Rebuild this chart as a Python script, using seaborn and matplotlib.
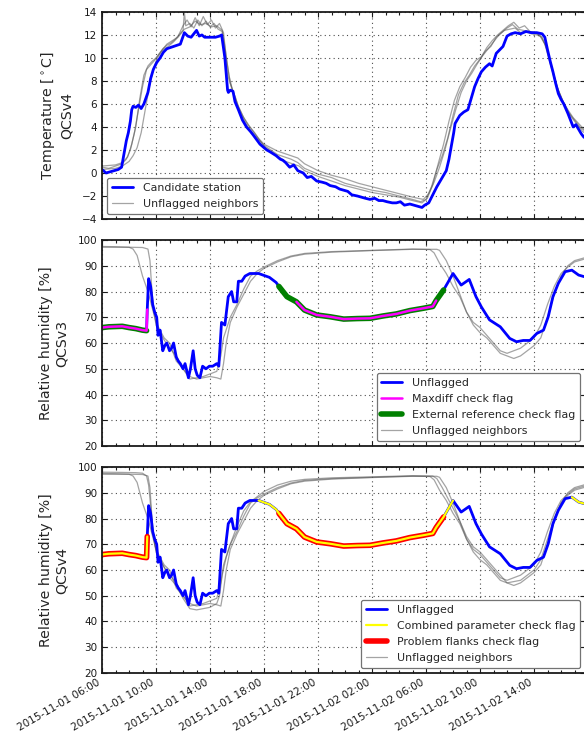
import numpy as np
import pandas as pd
import seaborn as sns
import matplotlib.pyplot as plt
import matplotlib.dates as mdates

# hours after 2015-11-01 06:00
start = pd.Timestamp("2015-11-01 06:00")

# --- temperature, candidate station
temp_cand_h = [0.0, 0.3, 0.6, 0.9, 1.2, 1.45, 1.6, 1.8, 1.95, 2.1, 2.2, 2.3, 2.5, 2.7, 2.9, 3.1, 3.4, 3.6, 3.8,
               4.05, 4.3, 4.55, 4.8, 5.05, 5.3, 5.55, 5.8, 6.1, 6.35, 6.6, 6.8, 7.0, 7.2, 7.4, 7.6, 8.0, 8.4,
               8.7, 8.86, 9.1, 9.3, 9.36, 9.5, 9.7, 9.85, 10.1, 10.4, 10.7, 11.0, 11.2, 11.45, 11.7, 12.0,
               12.2, 12.5, 12.9, 13.2, 13.4, 13.6, 13.9, 14.2, 14.5, 14.9, 15.2, 15.5, 15.9, 16.3, 16.6,
               16.9, 17.3, 17.6, 17.9, 18.2, 18.5, 18.9, 19.2, 19.5, 19.85, 20.2, 20.5, 20.8, 21.1, 21.5,
               21.8, 22.1, 22.4, 22.8, 23.1, 23.4, 23.7, 23.9, 24.2, 24.5, 24.8, 25.1, 25.5, 25.7, 25.9,
               26.05, 26.15, 26.3, 26.5, 26.8, 27.1, 27.35, 27.6, 27.85, 28.1, 28.4, 28.7, 28.9, 29.2,
               29.45, 29.7, 30.0, 30.3, 30.6, 31.0, 31.4, 31.8, 32.2, 32.6, 32.8, 33.0, 33.2, 33.4, 33.6,
               33.8, 34.0, 34.2, 34.35, 34.5, 34.7, 34.9, 35.1, 35.3, 35.5, 35.7, 36.0]
temp_cand = [0.3, 0.0, 0.1, 0.2, 0.3, 0.5, 1.5, 2.8, 3.5, 4.5, 5.5, 5.8, 5.7, 5.9, 5.6, 6.0, 7.0, 8.2, 9.0,
             9.6, 10.0, 10.5, 10.8, 10.9, 11.0, 11.1, 11.2, 12.2, 11.9, 11.8, 12.1, 12.4, 11.9, 12.0, 11.8,
             11.8, 11.8, 11.9, 12.0, 10.0, 7.2, 7.0, 7.2, 7.1, 6.2, 5.5, 4.6, 4.0, 3.6, 3.3, 2.9, 2.5, 2.2,
             2.0, 1.8, 1.5, 1.2, 1.1, 0.9, 0.5, 0.7, 0.2, 0.0, -0.4, -0.3, -0.7, -0.8, -0.9, -1.1, -1.2,
             -1.4, -1.5, -1.6, -1.9, -2.0, -2.1, -2.2, -2.3, -2.2, -2.4, -2.4, -2.5, -2.6, -2.6, -2.5,
             -2.8, -2.7, -2.8, -2.9, -3.0, -2.8, -2.6, -1.9, -1.2, -0.6, 0.2, 1.2, 2.5, 3.5, 4.3, 4.6,
             5.0, 5.3, 5.5, 6.5, 7.5, 8.2, 8.8, 9.2, 9.5, 9.3, 10.4, 10.7, 11.0, 11.9, 12.1, 12.2, 12.1,
             12.3, 12.2, 12.2, 12.1, 11.8, 10.7, 9.7, 8.8, 7.8, 6.9, 6.4, 6.0, 5.6, 5.2, 4.6, 4.0, 4.2,
             3.8, 3.4, 3.1, 3.0]

# --- temperature, neighbors
temp_nb1_h = [0, 0.5, 1.0, 1.5, 1.8, 2.1, 2.4, 2.7, 3.0, 3.3, 3.6, 3.9, 4.2, 4.5, 4.8, 5.1, 5.4, 5.7, 6.0,
              6.1, 6.2, 6.5, 6.8, 7.1, 7.4, 7.7, 8.0, 8.3, 8.6, 8.9, 9.1, 9.3, 9.6, 9.9, 10.2, 10.5, 10.8,
              11.2, 11.6, 12.0, 12.5, 13.0, 13.5, 14.0, 14.5, 15.0, 16.0, 17.0, 18.0, 19.0, 20.0, 21.0,
              22.0, 23.0, 23.6, 24.0, 24.4, 24.8, 25.2, 25.6, 26.0, 26.4, 26.8, 27.2, 27.6, 28.0, 28.4,
              28.8, 29.2, 29.6, 30.0, 30.4, 30.8, 31.2, 31.6, 32.0, 32.4, 32.8, 33.2, 33.6, 34.0, 34.4,
              34.8, 35.2, 35.6, 36.0]
temp_nb1 = [0.5, 0.4, 0.6, 0.8, 1.2, 2.0, 3.5, 5.5, 7.5, 9.0, 9.4, 9.8, 10.3, 10.8, 11.1, 11.3, 11.6, 12.0,
            12.4, 14.0, 12.8, 13.0, 12.6, 13.3, 12.8, 13.2, 12.7, 13.0, 12.5, 12.3, 10.5, 8.5, 7.4, 6.5,
            5.3, 4.6, 4.0, 3.4, 2.9, 2.4, 2.0, 1.6, 1.4, 1.2, 0.9, 0.4, -0.1, -0.4, -0.9, -1.2, -1.5,
            -1.7, -2.0, -2.3, -2.5, -2.3, -1.2, 0.3, 1.5, 3.0, 5.0, 6.8, 7.8, 8.5, 9.3, 9.9, 10.6, 11.0,
            11.8, 12.2, 12.6, 12.9, 12.5, 12.4, 12.3, 12.2, 12.0, 11.2, 9.5, 7.8, 6.6, 5.5, 4.8, 4.2,
            3.6, 3.3]
temp_nb2_h = [0, 1.0, 1.5, 2.0, 2.3, 2.6, 2.9, 3.2, 3.5, 3.8, 4.1, 4.5, 4.9, 5.3, 5.7, 6.1, 6.5, 6.9, 7.3,
              7.7, 8.1, 8.5, 8.9, 9.1, 9.4, 9.7, 10.0, 10.4, 10.8, 11.2, 11.6, 12.0, 12.5, 13.0, 13.5,
              14.0, 14.5, 15.0, 16.0, 17.0, 18.0, 19.0, 20.0, 21.0, 22.0, 23.0, 23.8, 24.2, 24.6, 25.0,
              25.4, 25.8, 26.2, 26.6, 27.0, 27.4, 27.8, 28.2, 28.6, 29.0, 29.4, 29.8, 30.2, 30.6, 31.0,
              31.4, 31.8, 32.2, 32.6, 33.0, 33.4, 33.8, 34.2, 34.6, 35.0, 35.4, 35.8, 36.0]
temp_nb2 = [0.3, 0.4, 0.6, 1.0, 1.5, 2.2, 3.5, 5.5, 7.5, 9.0, 10.0, 10.7, 11.0, 11.4, 11.9, 12.5, 12.7,
            13.2, 12.9, 13.0, 12.7, 12.8, 12.4, 11.0, 8.5, 7.0, 6.0, 5.0, 4.2, 3.6, 3.0, 2.5, 2.2, 1.9,
            1.7, 1.5, 1.3, 0.8, 0.2, -0.2, -0.5, -0.9, -1.2, -1.5, -1.8, -2.1, -2.3, -1.8, -0.8, 0.5,
            2.0, 3.8, 5.5, 7.0, 8.0, 8.7, 9.5, 10.2, 10.8, 11.4, 12.0, 12.4, 12.5, 12.6, 12.2, 12.3,
            12.1, 12.0, 11.8, 10.6, 8.8, 7.2, 6.1, 5.2, 4.6, 4.0, 3.6, 3.4]
temp_nb3_h = [0, 1.0, 1.5, 1.9, 2.2, 2.5, 2.8, 3.1, 3.4, 3.7, 4.0, 4.4, 4.8, 5.2, 5.6, 6.0, 6.3, 6.6, 6.9,
              7.2, 7.5, 7.8, 8.1, 8.4, 8.7, 9.0, 9.2, 9.5, 9.8, 10.1, 10.5, 10.9, 11.3, 11.7, 12.1, 12.6,
              13.1, 13.6, 14.1, 14.6, 15.0, 16.0, 17.0, 18.0, 19.0, 20.0, 21.0, 22.0, 23.0, 23.7, 24.1,
              24.5, 24.9, 25.3, 25.7, 26.1, 26.5, 26.9, 27.3, 27.7, 28.1, 28.5, 28.9, 29.3, 29.7, 30.1,
              30.5, 30.9, 31.3, 31.7, 32.1, 32.5, 32.9, 33.3, 33.7, 34.1, 34.5, 34.9, 35.3, 35.7, 36.0]
temp_nb3 = [0.6, 0.7, 0.9, 1.4, 2.5, 4.0, 6.5, 8.5, 9.3, 9.7, 10.0, 10.6, 11.2, 11.5, 11.8, 12.8, 13.3,
            12.7, 13.5, 12.8, 13.6, 12.9, 13.3, 12.6, 13.0, 12.2, 10.0, 7.8, 6.8, 5.8, 4.8, 4.1, 3.5,
            2.8, 2.2, 1.8, 1.4, 1.0, 0.8, 0.6, 0.2, -0.3, -0.7, -1.1, -1.4, -1.7, -1.9, -2.1, -2.4,
            -2.6, -2.2, -1.0, 0.8, 2.5, 4.5, 6.3, 7.5, 8.3, 9.2, 9.8, 10.1, 10.9, 11.5, 12.0, 12.4,
            12.8, 13.1, 12.6, 12.8, 12.3, 12.2, 11.9, 11.0, 9.2, 7.5, 6.3, 5.5, 4.8, 4.3, 3.8, 3.5]

# --- relative humidity, candidate station
rh_cand_h = [0.0, 0.5, 1.0, 1.5, 2.0, 2.5, 3.0, 3.3, 3.35, 3.45, 3.6, 3.75, 3.9, 4.05, 4.15, 4.3, 4.5,
             4.65, 4.8, 5.0, 5.15, 5.3, 5.5, 5.65, 5.8, 6.0, 6.15, 6.4, 6.55, 6.75, 6.9, 7.05, 7.25,
             7.45, 7.7, 7.95, 8.2, 8.5, 8.65, 8.85, 9.1, 9.35, 9.6, 9.75, 9.98, 10.1, 10.35, 10.6, 10.95,
             11.6, 12.4, 12.9, 13.1, 13.7, 14.4, 15.0, 15.9, 16.9, 17.9, 18.9, 19.85, 20.8, 21.8, 22.8,
             23.8, 24.5, 24.75, 25.3, 26.0, 26.6, 27.2, 27.7, 28.1, 28.7, 29.5, 30.2, 30.7, 31.2, 31.7,
             32.2, 32.7, 33.05, 33.4, 33.8, 34.3, 34.8, 35.3, 35.7, 36.0]
rh_cand = [66.0, 66.3, 66.4, 66.5, 66.0, 65.6, 65.0, 64.8, 73.0, 85.0, 82.0, 75.0, 72.0, 70.0, 63.0, 65.0,
           57.0, 59.0, 60.0, 57.0, 58.0, 60.0, 54.5, 53.0, 52.0, 50.0, 52.0, 46.5, 50.0, 57.0, 50.0, 47.5,
           46.5, 51.0, 50.0, 51.0, 51.0, 52.0, 51.0, 68.0, 67.0, 78.0, 80.0, 76.0, 76.0, 84.0, 84.0, 86.0,
           87.0, 87.0, 85.5, 83.5, 82.0, 78.0, 76.0, 72.8, 70.9, 70.2, 69.3, 69.5, 69.6, 70.5, 71.3, 72.6,
           73.5, 74.2, 76.5, 80.6, 87.0, 82.5, 84.7, 78.0, 74.0, 69.0, 66.3, 61.8, 60.5, 61.0, 61.0, 63.7,
           65.0, 70.2, 78.0, 83.2, 87.7, 88.3, 86.4, 85.8, 85.5]

# --- relative humidity, neighbors
rh_nb1_h = [0, 1.0, 2.0, 2.3, 2.6, 2.8, 3.0, 3.2, 3.4, 3.6, 3.8, 4.0, 4.3, 4.6, 5.0, 5.5, 6.0, 6.5, 7.0,
            7.5, 8.0, 8.5, 8.8, 9.0, 9.5, 10.0, 10.5, 11.0, 11.5, 12.0, 13.0, 14.0, 15.0, 17.0, 20.0,
            23.0, 24.3, 24.6, 25.0, 25.5, 26.0, 26.5, 27.0, 27.5, 28.0, 28.5, 29.0, 29.5, 30.0, 30.5,
            31.0, 31.5, 32.0, 32.5, 33.0, 33.5, 34.0, 34.5, 35.0, 36.0]
rh_nb1 = [97.5, 97.4, 97.2, 96.5, 94.0, 90.0, 86.0, 83.0, 80.0, 76.0, 72.0, 68.0, 65.0, 62.0, 60.0, 53.0,
          50.0, 46.0, 46.5, 47.0, 48.0, 49.0, 55.0, 62.0, 70.0, 75.0, 81.0, 86.0, 88.0, 89.5, 92.0, 93.8,
          94.8, 95.5, 96.0, 96.5, 96.3, 95.0, 91.0, 87.0, 82.0, 78.0, 72.0, 68.0, 66.0, 63.0, 60.0, 57.0,
          56.0, 57.0, 58.0, 60.0, 62.0, 67.0, 75.0, 82.0, 87.0, 89.5, 91.5, 93.0]
rh_nb2_h = [0, 2.0, 3.0, 3.4, 3.55, 3.7, 3.85, 4.0, 4.5, 5.0, 5.5, 6.0, 6.5, 7.0, 7.5, 8.0, 8.5, 8.8, 9.0,
            9.2, 9.5, 10.0, 10.5, 11.0, 11.5, 12.0, 13.0, 14.0, 15.0, 17.0, 20.0, 23.0, 24.8, 25.0, 25.5,
            26.0, 26.5, 27.0, 27.5, 28.0, 28.5, 29.0, 29.5, 30.0, 30.5, 31.0, 31.5, 32.0, 32.5, 33.0,
            33.5, 34.0, 34.5, 35.0, 36.0]
rh_nb2 = [97.2, 97.2, 97.1, 96.5, 92.0, 80.0, 72.0, 67.0, 62.0, 58.0, 55.0, 50.0, 47.0, 46.0, 46.5, 47.0,
          46.5, 46.0, 52.0, 60.0, 68.0, 74.0, 79.0, 84.0, 87.0, 89.0, 91.5, 93.5, 94.5, 95.3, 95.9, 96.4,
          96.4, 96.0, 92.0, 86.0, 79.0, 72.0, 67.0, 64.0, 62.0, 59.0, 56.0, 55.0, 54.0, 55.0, 57.0, 59.0,
          62.0, 70.0, 79.0, 86.0, 90.0, 92.0, 93.5]
rh_nb3_h = [0, 1.5, 2.5, 3.0, 3.3, 3.45, 3.6, 3.75, 3.9, 4.1, 4.5, 5.0, 5.5, 6.0, 6.5, 7.0, 7.5, 8.0, 8.5,
            8.7, 8.9, 9.2, 9.5, 10.0, 10.5, 11.0, 11.5, 12.0, 13.0, 14.0, 15.0, 17.0, 20.0, 23.0, 24.5,
            24.8, 25.2, 25.6, 26.0, 26.5, 27.0, 27.5, 28.0, 28.5, 29.0, 29.5, 30.0, 30.5, 31.0, 31.5,
            32.0, 32.5, 33.0, 33.5, 34.0, 34.5, 35.0, 36.0]
rh_nb3 = [98.0, 97.9, 97.8, 97.6, 96.5, 93.0, 85.0, 76.0, 70.0, 66.0, 62.0, 57.0, 54.0, 49.0, 45.0, 44.5,
          45.0, 45.5, 47.0, 50.0, 58.0, 65.0, 70.0, 77.0, 83.0, 86.5, 88.5, 90.5, 93.0, 94.5, 95.2, 95.8,
          96.2, 96.6, 96.5, 95.5, 92.0, 88.0, 84.0, 79.0, 73.0, 69.0, 67.0, 64.0, 61.0, 58.0, 55.0, 55.5,
          56.0, 58.0, 60.0, 64.0, 72.0, 80.0, 86.0, 89.0, 91.0, 92.5]

# flagged periods (hours after start)
maxdiff_flag = [(0, 3.35), (14.4, 24.75)]
extref_flag = [(0, 3.3), (13.1, 25.3)]
combined_flag = [(0, 3.35), (11.6, 26.0), (34.8, 36.0)]
flanks_flag = [(0, 3.35), (13.1, 25.3)]


def to_time(hours):
    return start + pd.to_timedelta(np.asarray(hours, dtype=float), unit="h")


def draw(ax, hours, vals, color, lw, label=None, alpha=1.0):
    sns.lineplot(x=to_time(hours), y=np.asarray(vals), ax=ax, color=color, linewidth=lw,
                 label=label, alpha=alpha, estimator=None)


def draw_flags(ax, periods, color, lw, label):
    h = np.asarray(rh_cand_h)
    v = np.asarray(rh_cand)
    for i, (a, b) in enumerate(periods):
        m = (h >= a) & (h <= b)
        draw(ax, h[m], v[m], color, lw, label=label if i == 0 else None)


sns.set_theme(style="white")
plt.rcParams["font.family"] = ["DejaVu Sans"]
plt.rcParams["mathtext.fontset"] = "dejavusans"

fig, axes = plt.subplots(3, 1, sharex=True, figsize=(5.84, 7.42), dpi=100)
fig.patch.set_facecolor("white")

nb_col, nb_alpha, nb_lw = "0.35", 0.55, 0.9
ylab_size, ylab_pad = 10.2, 6

# panel 1: temperature
ax = axes[0]
draw(ax, temp_nb1_h, temp_nb1, nb_col, nb_lw, "Unflagged neighbors", nb_alpha)
draw(ax, temp_nb2_h, temp_nb2, nb_col, nb_lw, None, nb_alpha)
draw(ax, temp_nb3_h, temp_nb3, nb_col, nb_lw, None, nb_alpha)
draw(ax, temp_cand_h, temp_cand, "#0000ff", 2.0, "Candidate station")
ax.set_ylim(-4, 14)
ax.set_yticks(range(-4, 15, 2))
ax.set_ylabel("Temperature [$^\\circ$C]\nQCSv4", fontsize=ylab_size, labelpad=ylab_pad)

# panel 2: RH QCSv3
ax = axes[1]
draw(ax, rh_nb1_h, rh_nb1, nb_col, nb_lw, "Unflagged neighbors", nb_alpha)
draw(ax, rh_nb2_h, rh_nb2, nb_col, nb_lw, None, nb_alpha)
draw(ax, rh_cand_h, rh_cand, "#0000ff", 2.0, "Unflagged")
draw_flags(ax, extref_flag, "#008000", 4.0, "External reference check flag")
draw_flags(ax, maxdiff_flag, "#ff00ff", 1.8, "Maxdiff check flag")
ax.set_ylabel("Relative humidity [%]\nQCSv3", fontsize=ylab_size, labelpad=ylab_pad)

# panel 3: RH QCSv4
ax = axes[2]
draw(ax, rh_nb1_h, rh_nb1, nb_col, nb_lw, "Unflagged neighbors", nb_alpha)
draw(ax, rh_nb2_h, rh_nb2, nb_col, nb_lw, None, nb_alpha)
draw(ax, rh_nb3_h, rh_nb3, nb_col, nb_lw, None, nb_alpha)
draw(ax, rh_cand_h, rh_cand, "#0000ff", 2.0, "Unflagged")
draw_flags(ax, flanks_flag, "#ff0000", 4.0, "Problem flanks check flag")
draw_flags(ax, combined_flag, "#ffff00", 1.6, "Combined parameter check flag")
ax.set_ylabel("Relative humidity [%]\nQCSv4", fontsize=ylab_size, labelpad=ylab_pad)

for ax in axes[1:]:
    ax.set_ylim(20, 100)
    ax.set_yticks(range(20, 101, 10))

legend_order = [
    ["Candidate station", "Unflagged neighbors"],
    ["Unflagged", "Maxdiff check flag", "External reference check flag", "Unflagged neighbors"],
    ["Unflagged", "Combined parameter check flag", "Problem flanks check flag", "Unflagged neighbors"],
]
legend_loc = ["lower left", "lower right", "lower right"]

# axes boxes (the right edge runs just past the figure, as in the original crop)
x_end = 35.8
boxes = [(0.1747, 0.7049, 0.8276, 0.2790),
         (0.1747, 0.3989, 0.8276, 0.2776),
         (0.1747, 0.0930, 0.8276, 0.2776)]

for ax, order, loc, box in zip(axes, legend_order, legend_loc, boxes):
    ax.set_position(box)
    ax.set_xlim(start, start + pd.Timedelta(hours=x_end))
    ax.set_xlabel("")
    hs, ls = ax.get_legend_handles_labels()
    lookup = dict(zip(ls, hs))
    leg = ax.legend([lookup[k] for k in order], order, loc=loc, fontsize=7.9, frameon=True,
                    fancybox=True, framealpha=1.0, edgecolor="0.45", handlelength=1.9,
                    handletextpad=0.9, borderaxespad=0.45, labelspacing=0.55, borderpad=0.45)
    leg.get_frame().set_linewidth(0.9)
    ax.grid(True, which="major", linestyle=(0, (1, 3)), color="0.3", linewidth=0.8)
    ax.tick_params(which="both", direction="in", top=True, right=True, bottom=True, left=True,
                   labelsize=7.5, colors="k", width=0.8)
    ax.tick_params(which="major", length=3.5)
    ax.tick_params(which="minor", length=2.5)
    for s in ax.spines.values():
        s.set_color("k")
        s.set_linewidth(1.3)

ax = axes[2]
ax.xaxis.set_major_locator(mdates.HourLocator(byhour=[2, 6, 10, 14, 18, 22]))
ax.xaxis.set_minor_locator(mdates.HourLocator())
ax.xaxis.set_major_formatter(mdates.DateFormatter("%Y-%m-%d %H:%M"))
for lab in ax.get_xticklabels():
    lab.set_rotation(30)
    lab.set_ha("right")
for a in axes[:2]:
    a.tick_params(labelbottom=False)

fig.savefig("out.png", dpi=100, facecolor="white")
